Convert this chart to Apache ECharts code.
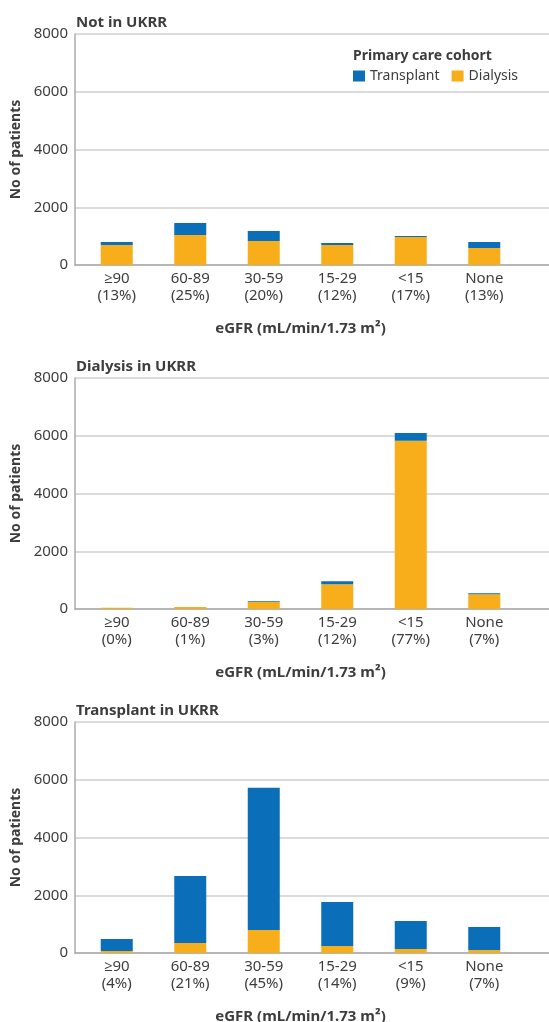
<!DOCTYPE html>
<html>
<head>
<meta charset="utf-8">
<script src="https://cdn.jsdelivr.net/npm/echarts@6/dist/echarts.min.js"></script>
<style>
  html, body { margin: 0; padding: 0; background: #fff; }
  #chart { width: 549px; height: 1022px; }
</style>
</head>
<body>
<div id="chart"></div>
<script>
// eGFR groups (x axis)
const categories = ['≥90', '60-89', '30-59', '15-29', '<15', 'None']

// share of each panel's patients in each eGFR group
const notInUkrrPct = ['13%', '25%', '20%', '12%', '17%', '13%']
const dialysisUkrrPct = ['0%', '1%', '3%', '12%', '77%', '7%']
const transplantUkrrPct = ['4%', '21%', '45%', '14%', '9%', '7%']

// counts by primary care cohort
const notInUkrrDialysis = [690, 1040, 830, 690, 970, 590]
const notInUkrrTransplant = [110, 415, 345, 70, 35, 210]
const dialysisUkrrDialysis = [40, 70, 240, 860, 5830, 510]
const dialysisUkrrTransplant = [0, 0, 30, 100, 265, 35]
const transplantUkrrDialysis = [70, 350, 800, 240, 140, 100]
const transplantUkrrTransplant = [415, 2320, 4920, 1530, 970, 800]

const yMax = 8000
const yInterval = 2000

const panels = [
  { title: 'Not in UKRR', pct: notInUkrrPct, dialysis: notInUkrrDialysis, transplant: notInUkrrTransplant },
  { title: 'Dialysis in UKRR', pct: dialysisUkrrPct, dialysis: dialysisUkrrDialysis, transplant: dialysisUkrrTransplant },
  { title: 'Transplant in UKRR', pct: transplantUkrrPct, dialysis: transplantUkrrDialysis, transplant: transplantUkrrTransplant }
]

const FONT = '"Noto Sans", "Open Sans", sans-serif'
const TEXT = '#3d3d3d'
const BLUE = '#0a6eb8'
const ORANGE = '#f8ad1b'
const GRID_LINE = '#cfcfcf'
const AXIS_LINE = '#ababab'

const tops = [34, 378, 722]
const plotHeight = 231

const grid = []
const xAxis = []
const yAxis = []
const series = []
const title = []

panels.forEach((p, i) => {
  const top = tops[i]
  // frame grid: y axis, gridlines, baseline
  grid.push({ left: 75, right: 0, top: top, height: plotHeight, outerBoundsMode: 'none' })
  // bar grid: a bit narrower so the bars sit like the original
  grid.push({ left: 80, right: 28, top: top, height: plotHeight, outerBoundsMode: 'none' })

  xAxis.push({
    type: 'category',
    gridIndex: i * 2,
    data: categories,
    axisLine: { show: true, lineStyle: { color: AXIS_LINE, width: 1.5 } },
    axisTick: { show: false },
    axisLabel: { show: false },
    splitLine: { show: false }
  })
  xAxis.push({
    type: 'category',
    gridIndex: i * 2 + 1,
    data: categories,
    axisLine: { show: false },
    axisTick: { show: false },
    axisLabel: {
      margin: 5,
      fontFamily: FONT,
      fontSize: 15,
      lineHeight: 17,
      color: TEXT,
      formatter: (v, idx) => v + '\n(' + p.pct[idx] + ')'
    },
    name: 'eGFR (mL/min/1.73 m²)',
    nameLocation: 'middle',
    nameGap: 56,
    nameTextStyle: { fontFamily: FONT, fontSize: 15, fontWeight: 'bold', color: TEXT }
  })

  yAxis.push({
    type: 'value',
    gridIndex: i * 2,
    min: 0,
    max: yMax,
    interval: yInterval,
    axisLine: { show: true, lineStyle: { color: AXIS_LINE, width: 1.5 } },
    axisTick: { show: false },
    axisLabel: { margin: 7, fontFamily: FONT, fontSize: 15, color: TEXT, formatter: v => String(v) },
    splitLine: { show: true, lineStyle: { color: GRID_LINE, width: 1.5 } },
    name: 'No of patients',
    nameLocation: 'middle',
    nameRotate: 90,
    nameGap: 49,
    nameTextStyle: { fontFamily: FONT, fontSize: 14, fontWeight: 'bold', color: TEXT }
  })
  yAxis.push({
    type: 'value',
    gridIndex: i * 2 + 1,
    min: 0,
    max: yMax,
    interval: yInterval,
    show: false,
    splitLine: { show: false }
  })

  series.push({
    name: 'Dialysis',
    type: 'bar',
    stack: 'p' + i,
    xAxisIndex: i * 2 + 1,
    yAxisIndex: i * 2 + 1,
    barWidth: 32,
    itemStyle: { color: ORANGE },
    data: p.dialysis
  })
  series.push({
    name: 'Transplant',
    type: 'bar',
    stack: 'p' + i,
    xAxisIndex: i * 2 + 1,
    yAxisIndex: i * 2 + 1,
    barWidth: 32,
    itemStyle: { color: BLUE },
    data: p.transplant
  })

  title.push({
    text: p.title,
    left: 71,
    top: top - 24,
    textStyle: { fontFamily: FONT, fontSize: 15, fontWeight: 'bold', color: TEXT }
  })
})

title.push({
  text: 'Primary care cohort',
  left: 348,
  top: 44,
  textStyle: { fontFamily: FONT, fontSize: 14, fontWeight: 'bold', color: TEXT }
})

const chart = echarts.init(document.getElementById('chart'), null, { renderer: 'canvas' })
chart.setOption({
  animation: false,
  backgroundColor: '#fff',
  title: title,
  legend: {
    data: ['Transplant', 'Dialysis'],
    left: 348,
    top: 64,
    icon: 'rect',
    itemWidth: 12,
    itemHeight: 11,
    itemGap: 12,
    textStyle: { fontFamily: FONT, fontSize: 14, color: TEXT }
  },
  grid: grid,
  xAxis: xAxis,
  yAxis: yAxis,
  series: series
})
</script>
</body>
</html>
